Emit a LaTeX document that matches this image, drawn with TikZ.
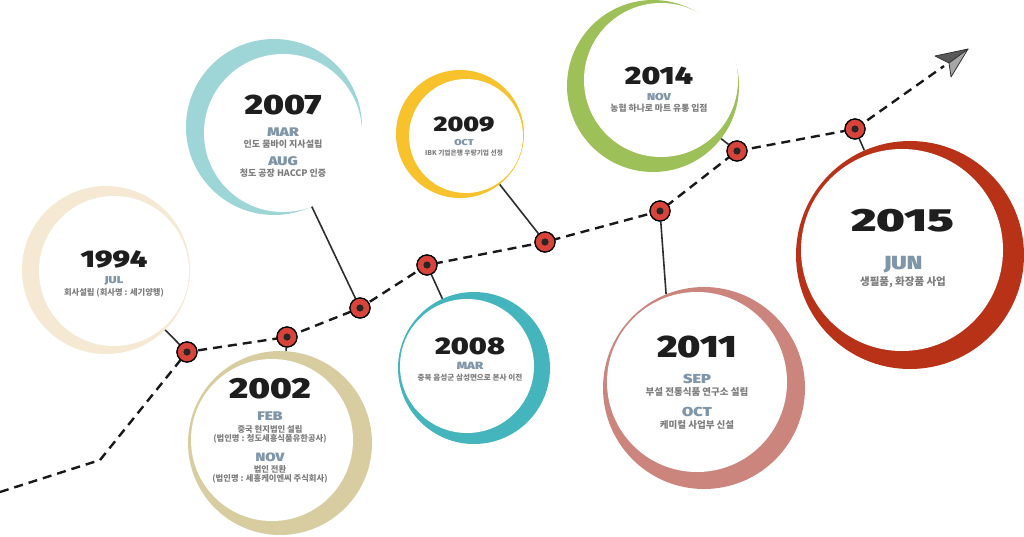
\documentclass[tikz,border=0pt]{standalone}
\usepackage{fontspec}
\setmainfont{Noto Sans CJK KR}
\newfontfamily\yearfont{Fira Sans Black}[FakeStretch=1.25]
\newfontfamily\wideyearfont{Fira Sans Black}[FakeStretch=1.5]
\newfontfamily\monfont{Fira Sans Black}[FakeStretch=1.25]
\usepackage{tikz}
\usetikzlibrary{calc,positioning}
\definecolor{cream}{RGB}{245,233,212}
\definecolor{sand}{RGB}{216,205,160}
\definecolor{skyteal}{RGB}{158,214,216}
\definecolor{sunny}{RGB}{248,194,44}
\definecolor{teal}{RGB}{69,181,189}
\definecolor{leaf}{RGB}{157,192,89}
\definecolor{rose}{RGB}{204,133,124}
\definecolor{brick}{RGB}{184,50,24}
\definecolor{dotred}{RGB}{217,68,58}
\definecolor{ink}{RGB}{30,30,30}
\definecolor{slate}{RGB}{127,149,168}
\definecolor{note}{RGB}{125,125,125}
\definecolor{stemgray}{RGB}{45,45,45}

\begin{document}
\begin{tikzpicture}[x=1pt,y=-1pt,
    ring/.style={circle, inner sep=0pt, fill=#1},
    hole/.style={circle, inner sep=0pt, fill=white},
    marker/.style={circle, inner sep=0pt, minimum size=20, fill=dotred, draw=black, line width=1.2pt,
      path picture={\fill[black!85] (path picture bounding box.center) circle (3.6pt);}},
    trail/.style={line width=2.4pt, dash pattern=on 9pt off 6pt, black!90},
    stem/.style={draw=stemgray, line width=1.6pt},
    year/.style={font=\yearfont\fontsize{#1}{#1}\selectfont, text=ink, inner sep=0pt},
    mon/.style={font=\monfont\fontsize{#1}{#1}\selectfont, text=slate, inner sep=0pt},
    txt/.style={font=\bfseries\fontsize{#1}{\dimexpr #1pt*105/100\relax}\selectfont, text=note, align=center, inner sep=0pt}]
  \useasboundingbox (0,0) rectangle (1024,536);
  % Rings
  \node[ring=cream, minimum size=168] (r1994) at (106,270) {};
  \node[hole, minimum size=150] (h1994) at (114,271) {};
  \node[ring=sand, minimum size=184] (r2002) at (280,443) {};
  \node[hole, minimum size=162] (h2002) at (272,440) {};
  \node[ring=skyteal, minimum size=176] (r2007) at (274,127) {};
  \node[hole, minimum size=158] (h2007) at (283,133) {};
  \node[ring=sunny, minimum size=128] (r2009) at (460,134) {};
  \node[hole, minimum size=114] (h2009) at (466,136) {};
  \node[ring=teal, minimum size=152] (r2008) at (474,368) {};
  \node[hole, minimum size=134] (h2008) at (467,366) {};
  \node[ring=leaf, minimum size=172] (r2014) at (653,86) {};
  \node[hole, minimum size=154] (h2014) at (661,80) {};
  \node[ring=rose, minimum size=202] (r2011) at (704,388) {};
  \node[hole, minimum size=180] (h2011) at (697,382) {};
  \node[ring=brick, minimum size=228] (r2015) at (910,255) {};
  \node[hole, minimum size=202] (h2015) at (902,250) {};
  % Timeline points
  \coordinate (start) at (0,492);
  \coordinate (bend) at (100,460);
  \coordinate (tail) at (944,66);
  \coordinate (tip) at (968,49);
  \node[marker] (m1994) at (187,352) {};
  \node[marker] (m2002) at (287,337) {};
  \node[marker] (m2007) at (360,308) {};
  \node[marker] (m2008) at (427,265) {};
  \node[marker] (m2009) at (545,242) {};
  \node[marker] (m2011) at (660,211) {};
  \node[marker] (m2014) at (737,151) {};
  \node[marker] (m2015) at (855,129) {};
  % Dashed line
  \draw[trail] (start) -- (bend) -- (m1994.center) -- (m2002.center) -- (m2007.center) -- (m2008.center)
    -- (m2009.center) -- (m2011.center) -- (m2014.center) -- (m2015.center) -- (tail);
  % Stems
  \draw[stem] (m1994) -- (r1994);
  \draw[stem] (m2002) -- (r2002);
  \draw[stem] (m2007) -- (r2007);
  \draw[stem] (m2008) -- (r2008);
  \draw[stem] (m2009) -- (r2009);
  \draw[stem] (m2011) -- (r2011.112);
  \draw[stem] (m2014) -- (r2014);
  \draw[stem] (m2015) -- (r2015);
  % Markers on top
  \foreach \m in {m1994,m2002,m2007,m2008,m2009,m2011,m2014,m2015}
    \node[marker] at (\m) {};
  % Arrow head
  \coordinate (wingl) at (935,56);
  \coordinate (notch) at (949,63);
  \coordinate (wingb) at (951,77);
  \filldraw[fill=black!65, draw=black!80, line width=0.8pt, line join=round] (tip) -- (wingl) -- (notch) -- cycle;
  \filldraw[fill=black!35, draw=black!80, line width=0.8pt, line join=round] (tip) -- (notch) -- (wingb) -- cycle;
  % 1994
  \node[year=24] (y1994) at (114,259) {1994};
  \node[mon=10] (t1994a) at (114,281) {JUL};
  \node[txt=8.3] (t1994b) at (114,293) {회사설립 (회사명 : 세기양행)};
  % 2002
  \node[year=29] (y2002) at (270,389) {2002};
  \node[mon=12.5] (t2002a) at (270,416) {FEB};
  \node[txt=8.3] (t2002b) at (270,434) {중국 현지법인 설립\\(법인명 : 청도세흥식품유한공사)};
  \node[mon=12] (t2002c) at (270,457) {NOV};
  \node[txt=8.3] (t2002d) at (270,474) {법인 전환\\(법인명 : 세흥케이엔씨 주식회사)};
  % 2007
  \node[year=28] (y2007) at (283,105) {2007};
  \node[mon=12.5] (t2007a) at (283,132) {MAR};
  \node[txt=9] (t2007b) at (283,144) {인도 뭄바이 지사설립};
  \node[mon=12.5] (t2007c) at (283,161) {AUG};
  \node[txt=9] (t2007d) at (283,173) {청도 공장 HACCP 인증};
  % 2009
  \node[year=21] (y2009) at (464,125) {2009};
  \node[mon=8.5] (t2009a) at (464,143) {OCT};
  \node[txt=6.7] (t2009b) at (464,153) {IBK 기업은행 우량기업 선정};
  % 2008
  \node[year=24] (y2008) at (470,346) {2008};
  \node[mon=10.5] (t2008a) at (470,366) {MAR};
  \node[txt=7.6] (t2008b) at (470,378) {충북 음성군 삼성면으로 본사 이전};
  % 2014
  \node[year=25] (y2014) at (659,76) {2014};
  \node[mon=10] (t2014a) at (659,97) {NOV};
  \node[txt=8.8] (t2014b) at (659,108) {농협 하나로 마트 유통 입점};
  % 2011
  \node[year=31] (y2011) at (697,347) {2011};
  \node[mon=13] (t2011a) at (697,379) {SEP};
  \node[txt=9.5] (t2011b) at (697,392) {부설 전통식품 연구소 설립};
  \node[mon=13] (t2011c) at (697,412) {OCT};
  \node[txt=9.5] (t2011d) at (697,425) {케미컬 사업부 신설};
  % 2015
  \node[year=32, font=\wideyearfont\fontsize{32}{32}\selectfont] (y2015) at (903,221) {2015};
  \node[mon=19] (t2015a) at (903,265) {JUN};
  \node[txt=10.5] (t2015b) at (903,282) {생필품, 화장품 사업};
\end{tikzpicture}
\end{document}
